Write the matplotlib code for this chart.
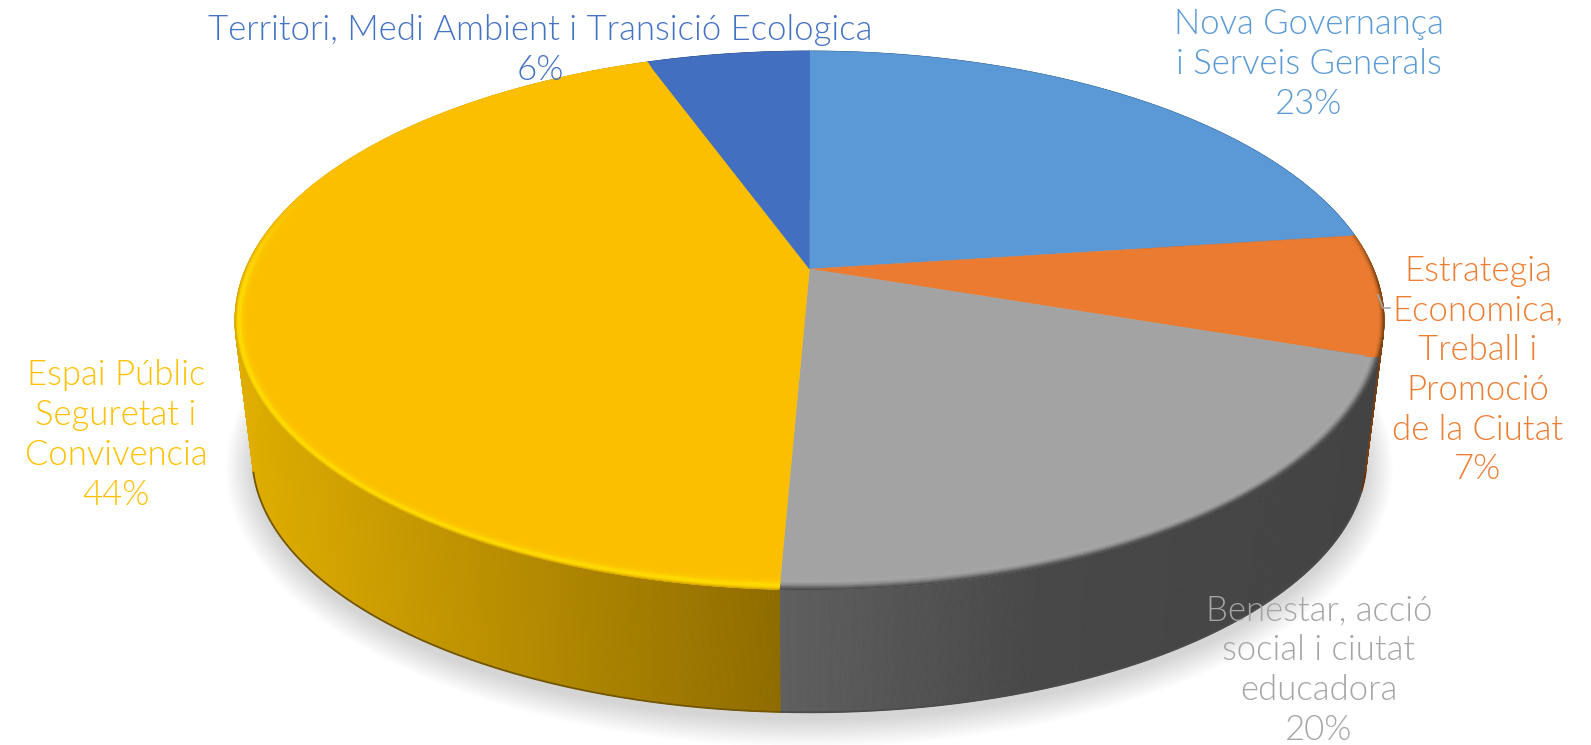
# plot.py - tilted 3D style pie with bevel, gradient wall and soft shadow
import numpy as np
import matplotlib
matplotlib.use("Agg")
import matplotlib.pyplot as plt
from matplotlib.collections import PolyCollection
from matplotlib.colors import to_rgb

categories = ["Nova Governança\ni Serveis Generals",
              "Estrategia\nEconomica,\nTreball i\nPromoció\nde la Ciutat",
              "Benestar, acció\nsocial i ciutat\neducadora",
              "Espai Públic\nSeguretat i\nConvivencia",
              "Territori, Medi Ambient i Transició Ecologica"]
values = [22.9, 7.3, 20.49, 43.8, 5.51]
colors = ["#5a98d6", "#eb7b30", "#a3a3a3", "#fbbf00", "#426fc0"]
text_colors = ["#5b9bd5", "#ed7d31", "#a5a5a5", "#ffc000", "#4472c4"]
label_pos = [(1309, 64), (1478, 370), (1319, 670), (116, 435), (540, 50)]

# wall colours, by screen x
wall_x = [240, 781, 1040, 1380]
wall_shades = [["#1f4e79"] * 4,
               ["#7a3f10"] * 4,
               ["#5f5f5f", "#5f5f5f", "#474747", "#434343"],
               ["#e0ae00", "#8f6c00", "#8f6c00", "#8f6c00"],
               ["#264478"] * 4]
# bevel, offset from the rim in px -> colour
bevel_d = [0, 2.5, 5, 8, 13]
bevel_shades = [None,
                ["#7a3f10", "#c46a28", "#eb7b30", "#eb7b30", "#eb7b30"],
                ["#484848", "#6a6a6a", "#8f8f8f", "#a6a6a6", "#a3a3a3"],
                ["#d9a900", "#ffd800", "#ffdc00", "#fdc800", "#fbbf00"],
                None]

CX, P = 809.5, 0.191
TOP = dict(cy=269, rx=564, ry=259.6)
LOW = dict(cy=407, rx=547, ry=247)

plt.rcParams["font.family"] = ["Lato", "DejaVu Sans"]


def project(t, circle, r=1.0):
    x, y = r * np.sin(t), r * np.cos(t)
    w = 1 + P * y
    return CX + circle["rx"] * x / w, circle["cy"] - circle["ry"] * y / w


def rgb_interp(xs, stops, xp):
    rgb = np.array([to_rgb(c) for c in stops])
    return np.column_stack([np.interp(xs, xp, rgb[:, i]) for i in range(3)])


def draw_shadow(ax):
    t = np.linspace(0, 2 * np.pi, 360)
    sx, sy = project(t, LOW)
    for grow in np.linspace(26, 0, 14):
        px = CX + (sx - CX) * (1 + grow / 560)
        py = 415 + (sy - 407) * (1 + grow / 300)
        ax.fill(px, py, color="black", alpha=0.011, lw=0, zorder=1)


def draw_walls(ax, edges):
    for i in range(len(values)):
        ts = np.arange(edges[i], edges[i + 1] + 0.004, 0.004)
        ts[-1] = edges[i + 1]
        ax_, ay_ = project(ts, TOP)
        bx_, by_ = project(ts, LOW)
        quads = [[(ax_[k], ay_[k]), (ax_[k + 1], ay_[k + 1]),
                  (bx_[k + 1], by_[k + 1]), (bx_[k], by_[k])] for k in range(len(ts) - 1)]
        shade = rgb_interp((ax_[:-1] + bx_[:-1]) / 2, wall_shades[i], wall_x)
        ax.add_collection(PolyCollection(quads, facecolors=shade, edgecolors=shade,
                                         linewidths=0.6, zorder=2))
        # darker lower edge, front part only
        front = np.cos(ts) < -0.25
        if front.any():
            ax.plot(bx_[front], by_[front], color=np.array(to_rgb(wall_shades[i][1])) * 0.8,
                    lw=1.3, zorder=2.1)


def draw_top(ax, edges):
    for i in range(len(values)):
        ts = np.linspace(edges[i], edges[i + 1], 200)
        sx, sy = project(ts, TOP)
        cx0, cy0 = project(np.array([0.0]), TOP, r=0.0)
        ax.fill(np.r_[cx0, sx], np.r_[cy0, sy], color=colors[i], lw=0.3, zorder=3)


def draw_bevel(ax, edges):
    for i in range(len(values)):
        if bevel_shades[i] is None:
            continue
        ts = np.arange(edges[i], edges[i + 1] + 0.004, 0.004)
        ts[-1] = edges[i + 1]
        sx, sy = project(ts, TOP)
        nx, ny = CX - sx, 320 - sy
        n = np.hypot(nx, ny)
        nx, ny = nx / n, ny / n
        # fades out towards the back of the pie
        fade = np.clip((0.3 - np.cos(ts)) / 0.35, 0, 1)
        ds = np.linspace(0, 13, 14)
        shade = rgb_interp(ds, bevel_shades[i], bevel_d)
        base = np.array(to_rgb(colors[i]))
        for j in range(len(ds) - 1):
            x0, y0 = sx + nx * ds[j], sy + ny * ds[j]
            x1, y1 = sx + nx * ds[j + 1], sy + ny * ds[j + 1]
            quads = [[(x0[k], y0[k]), (x0[k + 1], y0[k + 1]), (x1[k + 1], y1[k + 1]), (x1[k], y1[k])]
                     for k in range(len(ts) - 1)]
            fc = base + (shade[j] - base) * fade[:-1, None]
            ax.add_collection(PolyCollection(quads, facecolors=fc, edgecolors=fc,
                                             linewidths=0.4, zorder=4))


fig = plt.figure(figsize=(15.91, 7.45), dpi=100, facecolor="white")
ax = fig.add_axes([0, 0, 1, 1])
ax.set_xlim(0, 1591)
ax.set_ylim(745, 0)
ax.axis("off")

edges = np.r_[0, np.cumsum(values)] / sum(values) * 2 * np.pi
draw_shadow(ax)
draw_walls(ax, edges)
draw_top(ax, edges)
draw_bevel(ax, edges)

# small leader line by the Estrategia label
ax.plot([1378, 1383, 1390], [295, 308, 308], color="#a6a6a6", lw=1.2, zorder=5)

for name, v, c, (lx, ly) in zip(categories, values, text_colors, label_pos):
    ax.text(lx, ly, f"{name}\n{v:.0f}%", color=c, ha="center", va="center",
            fontsize=25, fontweight=300, linespacing=1.297, zorder=6)

fig.savefig("out.png", dpi=100, facecolor="white")
